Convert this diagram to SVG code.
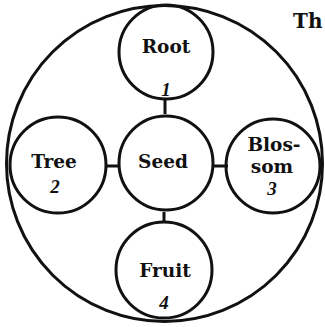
<svg xmlns="http://www.w3.org/2000/svg" width="325" height="327" viewBox="0 0 325 327">
<style>
.c{fill:none;stroke:#111;stroke-width:3}
.l{stroke:#111;stroke-width:3}
.t{font-family:"DejaVu Serif","Liberation Serif",serif;font-weight:bold;font-size:18.5px;fill:#111;text-anchor:middle}
.n{font-family:"Liberation Serif",serif;font-weight:bold;font-style:italic;font-size:19px;fill:#111;text-anchor:middle}
</style>
<rect width="325" height="327" fill="#fff"/>
<g id="outer"><circle class="c" cx="164.5" cy="163.5" r="158"/></g>
<g id="connectors">
<line class="l" x1="165" y1="98" x2="165" y2="114"/>
<line class="l" x1="106" y1="166" x2="120" y2="166"/>
<line class="l" x1="212" y1="166" x2="228" y2="166"/>
<line class="l" x1="164" y1="212" x2="164" y2="222"/>
</g>
<g id="root"><circle class="c" cx="166" cy="52" r="47"/><text class="t" x="166" y="53">Root</text><text class="n" x="166" y="96">1</text></g>
<g id="seed"><circle class="c" cx="166" cy="163" r="47"/><text class="t" x="163" y="168">Seed</text></g>
<g id="tree"><circle class="c" cx="58" cy="165" r="48"/><text class="t" x="54" y="168">Tree</text><text class="n" x="55" y="193">2</text></g>
<g id="blossom"><circle class="c" cx="273" cy="166" r="47"/><text class="t" x="274" y="151">Blos-</text><text class="t" x="272" y="173">som</text><text class="n" x="272" y="195">3</text></g>
<g id="fruit"><circle class="c" cx="164" cy="270" r="48"/><text class="t" x="165" y="277">Fruit</text><text class="n" x="164" y="309">4</text></g>
<text class="t" x="293" y="28" style="text-anchor:start;font-size:20px">Th</text>
</svg>
